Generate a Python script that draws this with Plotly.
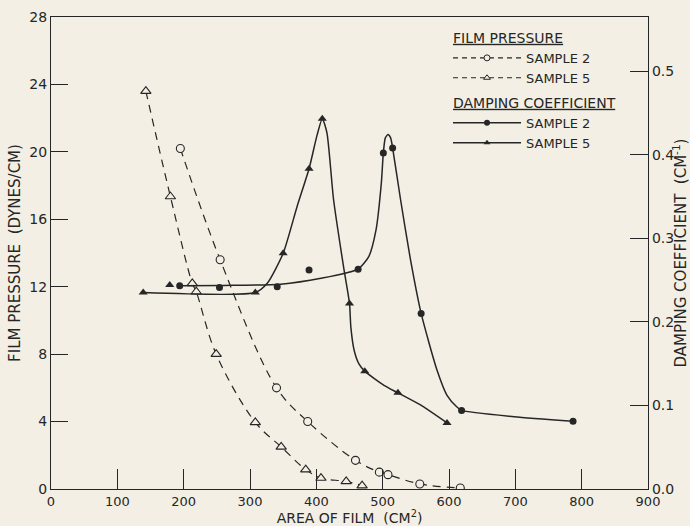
import plotly.graph_objects as go

# ---------------- data ----------------
# Film pressure, dynes/cm (left axis)
p2_area = [195, 255, 340, 387, 459, 495, 508, 556, 617]
p2_pressure = [20.2, 13.6, 6.0, 4.0, 1.7, 1.0, 0.85, 0.3, 0.06]
p5_area = [143, 180, 213, 219, 249, 308, 347, 384, 407, 445, 469]
p5_pressure = [23.6, 17.35, 12.2, 11.7, 8.0, 3.95, 2.5, 1.15, 0.65, 0.45, 0.2]

# Damping coefficient, cm^-1 (right axis) - measured points
d2_area = [194, 254, 341, 389, 463, 501, 515, 558, 619, 787]
d2_coef = [0.243, 0.241, 0.242, 0.262, 0.263, 0.402, 0.408, 0.210, 0.094, 0.081]
d5_area = [139, 179, 308, 350, 389, 409, 450, 473, 523, 597]
d5_coef = [0.235, 0.244, 0.235, 0.282, 0.383, 0.443, 0.222, 0.141, 0.115, 0.079]

# Damping coefficient - hand-drawn smooth curves
d2_curve_area = [194, 260, 346, 407, 463, 479, 490, 498, 501, 504, 508, 512,
                 515, 527, 542, 558, 582, 597, 612, 619, 698, 787]
d2_curve_coef = [0.243, 0.2435, 0.245, 0.252, 0.263, 0.278, 0.31, 0.366, 0.402,
                 0.42, 0.424, 0.42, 0.408, 0.346, 0.274, 0.210, 0.142, 0.112,
                 0.098, 0.094, 0.0865, 0.081]
d5_curve_area = [139, 308, 326, 350, 371, 389, 401, 409, 416, 426, 441, 450,
                 452, 457, 464, 473, 502, 523, 557, 597]
d5_curve_coef = [0.235, 0.235, 0.246, 0.282, 0.338, 0.383, 0.423, 0.443, 0.426,
                 0.346, 0.266, 0.222, 0.194, 0.166, 0.150, 0.141, 0.124, 0.115,
                 0.1005, 0.079]

x_ticks = [0, 100, 200, 300, 400, 500, 600, 700, 800, 900]
left_ticks = [0, 4, 8, 12, 16, 20, 24, 28]
right_ticks = [0.0, 0.1, 0.2, 0.3, 0.4, 0.5]

# ---------------- style ----------------
bg = "#f3efe4"
ink = "#262626"
font_family = "DejaVu Sans"

fig = go.Figure()

# Film pressure, dashed with open markers
fig.add_trace(go.Scatter(
    x=p2_area, y=p2_pressure, mode="lines+markers", showlegend=False,
    line=dict(color=ink, width=1.2, dash="8px,6px", shape="spline", smoothing=1.0),
    marker=dict(symbol="circle", size=8, color=bg, line=dict(color=ink, width=1.1)),
))
fig.add_trace(go.Scatter(
    x=p5_area, y=p5_pressure, mode="lines+markers", showlegend=False,
    line=dict(color=ink, width=1.2, dash="8px,6px", shape="spline", smoothing=1.0),
    marker=dict(symbol="triangle-up", size=9, color=bg, line=dict(color=ink, width=1.1)),
))

# Damping curves
fig.add_trace(go.Scatter(
    x=d2_curve_area, y=d2_curve_coef, yaxis="y2", mode="lines", showlegend=False,
    line=dict(color=ink, width=1.5, shape="spline", smoothing=0.6),
    hoverinfo="skip",
))
fig.add_trace(go.Scatter(
    x=d5_curve_area, y=d5_curve_coef, yaxis="y2", mode="lines", showlegend=False,
    line=dict(color=ink, width=1.5, shape="spline", smoothing=0.6),
    hoverinfo="skip",
))
fig.add_trace(go.Scatter(
    x=d2_area, y=d2_coef, yaxis="y2", mode="markers", showlegend=False,
    marker=dict(symbol="circle", size=7, color=ink),
))
fig.add_trace(go.Scatter(
    x=d5_area, y=d5_coef, yaxis="y2", mode="markers", showlegend=False,
    marker=dict(symbol="triangle-up", size=8, color=ink),
))

# Legend entries
fig.add_trace(go.Scatter(
    x=[None], y=[None], mode="lines+markers", name="SAMPLE 2",
    legendgroup="fp", legendgrouptitle=dict(text="<u>FILM PRESSURE</u>"),
    line=dict(color=ink, width=1.2, dash="5px,4px"),
    marker=dict(symbol="circle", size=6, color=bg, line=dict(color=ink, width=1)),
))
fig.add_trace(go.Scatter(
    x=[None], y=[None], mode="lines+markers", name="SAMPLE 5",
    legendgroup="fp",
    line=dict(color=ink, width=1.2, dash="5px,4px"),
    marker=dict(symbol="triangle-up", size=6, color=bg, line=dict(color=ink, width=1)),
))
fig.add_trace(go.Scatter(
    x=[None], y=[None], mode="lines+markers", name="SAMPLE 2",
    legendgroup="dc", legendgrouptitle=dict(text="<u>DAMPING COEFFICIENT</u>"),
    line=dict(color=ink, width=1.5),
    marker=dict(symbol="circle", size=6, color=ink),
))
fig.add_trace(go.Scatter(
    x=[None], y=[None], mode="lines+markers", name="SAMPLE 5",
    legendgroup="dc",
    line=dict(color=ink, width=1.5),
    marker=dict(symbol="triangle-up", size=6, color=ink),
))

axis_common = dict(
    ticks="inside", tickcolor=ink, tickwidth=1.2,
    showline=True, linecolor=ink, linewidth=1.3,
    showgrid=False, zeroline=False,
)

fig.update_layout(
    width=690, height=526,
    margin=dict(l=51, r=42, t=17, b=37),
    paper_bgcolor=bg, plot_bgcolor=bg,
    font=dict(family=font_family, size=14, color=ink),
    xaxis=dict(
        range=[0, 900], tickvals=x_ticks, ticklen=20, mirror=True,
        tickfont=dict(family=font_family, size=13, color=ink),
        ticklabelstandoff=0,
        title=dict(text="AREA OF FILM  (CM<sup>2</sup>)", standoff=0,
                   font=dict(family=font_family, size=14, color=ink)),
        automargin=False,
        **axis_common,
    ),
    yaxis=dict(
        range=[0, 28], tickvals=left_ticks, ticklen=17,
        tickfont=dict(family=font_family, size=14, color=ink),
        title=dict(text="FILM PRESSURE  (DYNES/CM)", standoff=4,
                   font=dict(family=font_family, size=15, color=ink)),
        automargin=False,
        **axis_common,
    ),
    yaxis2=dict(
        overlaying="y", side="right", range=[0, 0.5646], tickvals=right_ticks,
        tickformat=".1f", ticklen=18,
        tickfont=dict(family=font_family, size=14, color=ink),
        title=dict(text="DAMPING COEFFICIENT  (CM<sup>-1</sup>)", standoff=2,
                   font=dict(family=font_family, size=15, color=ink)),
        automargin=False,
        **axis_common,
    ),
    legend=dict(
        x=0.665, y=0.99, xanchor="left", yanchor="top",
        bgcolor="rgba(0,0,0,0)", borderwidth=0,
        font=dict(family=font_family, size=13, color=ink),
        grouptitlefont=dict(family=font_family, size=14, color=ink),
        itemwidth=68, tracegroupgap=4,
    ),
    showlegend=True,
)

fig.write_html("out.html")
